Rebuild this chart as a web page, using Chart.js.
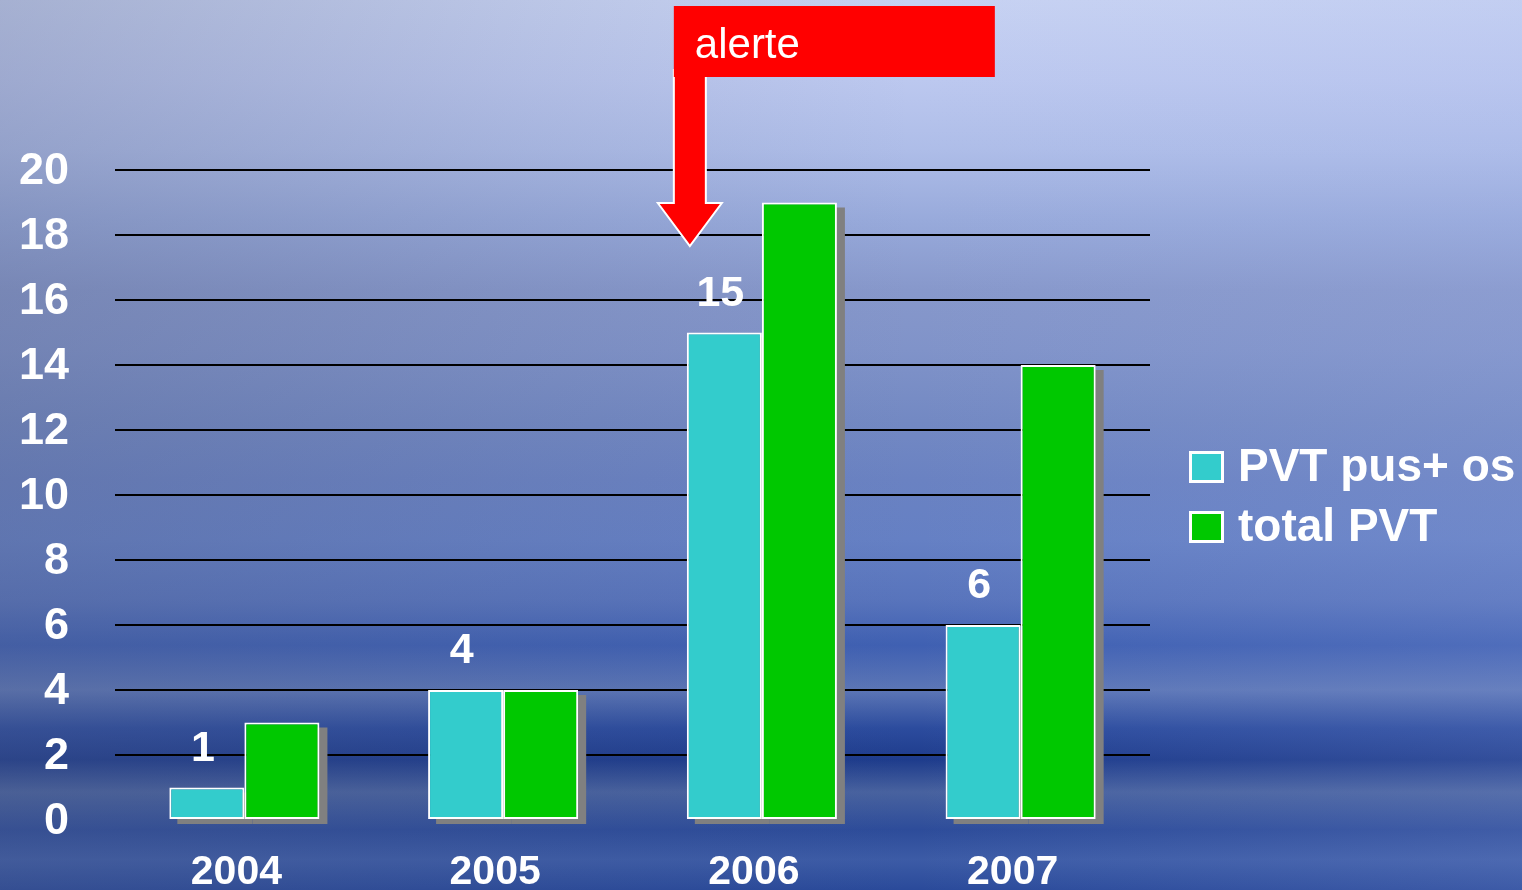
<!DOCTYPE html>
<html>
<head>
<meta charset="utf-8">
<script src="https://cdn.jsdelivr.net/npm/chart.js@4/dist/chart.umd.min.js"></script>
<style>
  html, body { margin: 0; padding: 0; }
  #wrap {
    width: 1522px; height: 890px; position: relative; overflow: hidden;
    background:
      linear-gradient(to right, rgba(80,90,125,0.28) 0%, rgba(80,90,125,0.10) 35%, rgba(255,255,255,0) 60%, rgba(170,185,240,0.15) 100%),
      linear-gradient(to bottom,
        #c7d2f2 0px, #bcc8ef 80px, #aebde8 150px, #98aadb 220px, #8798cb 290px,
        #8093c9 350px, #7389c3 420px, #6a82c2 480px, #6580c4 540px, #5874bc 600px,
        #3f60b2 645px, #5c76b6 690px, #2c4c9e 728px, #1e3c8c 760px, #48629f 792px,
        #2d4c9a 830px, #3c5ba6 860px, #2a4a9a 890px);
  }
  canvas { display: block; }
</style>
</head>
<body>
<div id="wrap"><canvas id="myChart" width="1522" height="890"></canvas></div>
<script>
// PVT chart, 2004-2007

const years = ['2004', '2005', '2006', '2007'];      // x-axis categories
const pvtPusOs = [1, 4, 15, 6];                      // cyan series
const totalPvt = [3, 4, 19, 14];                     // green series
const seriesNames = ['PVT pus+ os', 'total PVT'];
const seriesColors = ['#33CCCC', '#00C800'];
const yMin = 0, yMax = 20, yStep = 2;                // y-axis ticks 0..20
const alertText = 'alerte';
const alertIndex = 2;                                // arrow points at 2006

const FONT = '"Liberation Sans", Arial, sans-serif';

// grey drop shadow behind each bar
const shadowPlugin = {
    id: 'shadow',
    beforeDatasetsDraw(chart) {
        const ctx = chart.ctx;
        ctx.save();
        ctx.fillStyle = '#808080';
        chart.data.datasets.forEach((ds, i) => {
            chart.getDatasetMeta(i).data.forEach(bar => {
                const w = bar.width;
                ctx.fillRect(bar.x - w / 2 + 8, bar.y + 5, w, bar.base - bar.y);
            });
        });
        ctx.restore();
    }
};

// value labels above the cyan bars
const valueLabels = {
    id: 'valueLabels',
    afterDatasetsDraw(chart) {
        const ctx = chart.ctx;
        ctx.save();
        ctx.fillStyle = '#ffffff';
        ctx.font = 'bold 43px ' + FONT;
        ctx.textAlign = 'center';
        ctx.textBaseline = 'alphabetic';
        chart.getDatasetMeta(0).data.forEach((bar, i) => {
            ctx.fillText(String(pvtPusOs[i]), bar.x - 4, bar.y - 27);
        });
        ctx.restore();
    }
};

// legend on the right
const sideLegend = {
    id: 'sideLegend',
    afterDraw(chart) {
        const ctx = chart.ctx;
        const area = chart.chartArea;
        const midY = (area.top + area.bottom) / 2;
        ctx.save();
        seriesNames.forEach((name, i) => {
            const cy = midY - 28 + i * 60;
            const bx = area.right + 39;
            ctx.fillStyle = '#ffffff';
            ctx.fillRect(bx, cy - 16, 35, 32);
            ctx.fillStyle = seriesColors[i];
            ctx.fillRect(bx + 3, cy - 13, 29, 26);
            ctx.fillStyle = '#ffffff';
            ctx.font = 'bold 46px ' + FONT;
            ctx.textBaseline = 'middle';
            ctx.textAlign = 'left';
            ctx.fillText(name, bx + 49, cy + 1);
        });
        ctx.restore();
    }
};

// red "alerte" box with arrow down to 2006
const alertPlugin = {
    id: 'alert',
    afterDraw(chart) {
        const ctx = chart.ctx;
        const bar = chart.getDatasetMeta(0).data[alertIndex];
        const left = bar.x - bar.width / 2 - 13;
        ctx.save();
        // arrow
        ctx.beginPath();
        ctx.moveTo(left, 70);
        ctx.lineTo(left + 32, 70);
        ctx.lineTo(left + 32, 203);
        ctx.lineTo(left + 48, 203);
        ctx.lineTo(left + 16, 246);
        ctx.lineTo(left - 16, 203);
        ctx.lineTo(left, 203);
        ctx.closePath();
        ctx.fillStyle = '#ff0000';
        ctx.fill();
        ctx.strokeStyle = '#ffffff';
        ctx.lineWidth = 2;
        ctx.stroke();
        // box
        ctx.fillStyle = '#ff0000';
        ctx.fillRect(left, 6, 321, 71);
        ctx.fillStyle = '#ffffff';
        ctx.font = '42px ' + FONT;
        ctx.textBaseline = 'alphabetic';
        ctx.textAlign = 'left';
        ctx.fillText(alertText, left + 21, 58);
        ctx.restore();
    }
};

const ctx = document.getElementById('myChart');

const myChart = new Chart(ctx, {
    type: 'bar',
    data: {
        labels: years,
        datasets: [{
            label: seriesNames[0],
            data: pvtPusOs,
            backgroundColor: seriesColors[0],
            borderColor: '#ffffff',
            borderWidth: 2,
            borderSkipped: false
        },
        {
            label: seriesNames[1],
            data: totalPvt,
            backgroundColor: seriesColors[1],
            borderColor: '#ffffff',
            borderWidth: 2,
            borderSkipped: false
        }]
    },
    options: {
        responsive: false,
        animation: false,
        devicePixelRatio: 1,
        categoryPercentage: 0.58,
        barPercentage: 1.0,
        layout: {
            padding: { top: 170, right: 372, left: 0, bottom: 0 }
        },
        scales: {
            x: {
                grid: { display: false },
                border: { display: false },
                ticks: {
                    color: '#ffffff',
                    padding: 20,
                    labelOffset: -8,
                    font: { family: FONT, size: 41, weight: 'bold' }
                },
                afterFit(scale) { scale.height = 70; }
            },
            y: {
                min: yMin,
                max: yMax,
                border: { display: false },
                grid: {
                    drawTicks: false,
                    lineWidth: 2,
                    color: c => (c.tick && c.tick.value === 0) ? 'rgba(0,0,0,0)' : '#000000'
                },
                ticks: {
                    stepSize: yStep,
                    color: '#ffffff',
                    padding: 46,
                    labelOffset: 2,
                    font: { family: FONT, size: 45, weight: 'bold' }
                },
                afterFit(scale) {
                    scale.width = 115;
                    scale.paddingTop = 0;     // let layout padding set the plot top
                    scale.paddingBottom = 0;  // and the x axis height set its bottom
                }
            }
        },
        plugins: {
            legend: { display: false },
            tooltip: { enabled: false }
        }
    },
    plugins: [shadowPlugin, valueLabels, sideLegend, alertPlugin]
});
</script>
</body>
</html>
